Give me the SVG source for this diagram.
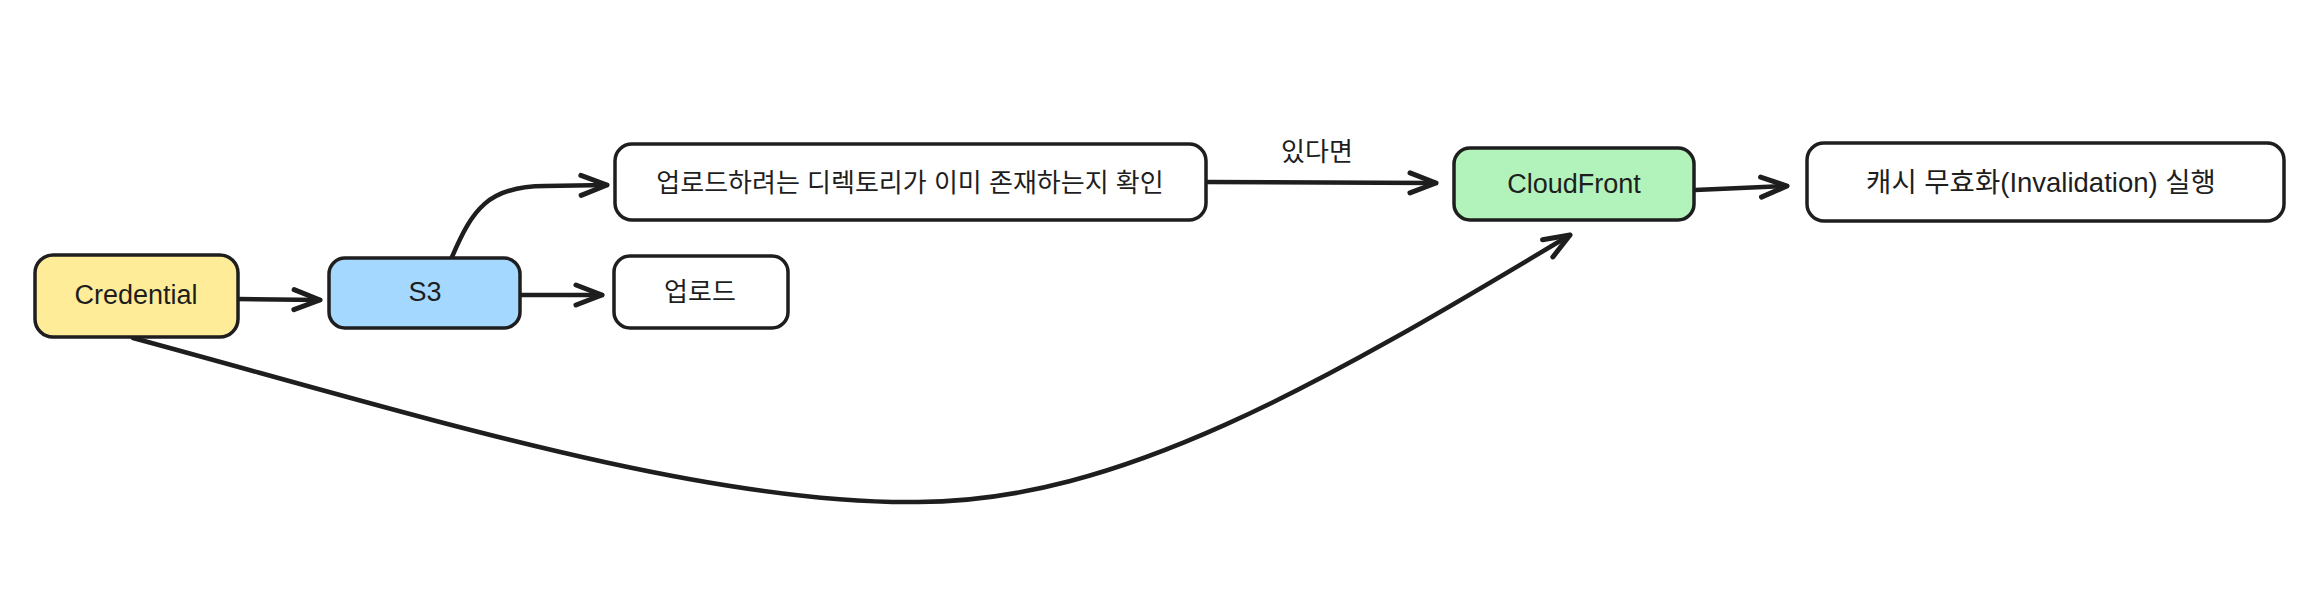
<svg xmlns="http://www.w3.org/2000/svg" width="2318" height="604" viewBox="0 0 2318 604">
<style>
.box{stroke:#1e1e1e;stroke-width:3.5;}
.lbl{font-family:"Liberation Sans","Noto Sans CJK KR",sans-serif;fill:#1e1e1e;text-anchor:middle;}
.lat{font-size:27px;}
.kor{font-size:26px;}
.mix{font-size:27.5px;}
.edge{fill:none;stroke:#1e1e1e;stroke-width:4.5;stroke-linecap:round;stroke-linejoin:round;}
</style>
<defs>
<marker id="ah" markerUnits="userSpaceOnUse" markerWidth="40" markerHeight="30" viewBox="-32 -15 40 30" refX="0" refY="0" orient="auto" overflow="visible">
<path d="M-26,-10 L0,0 L-26,10" fill="none" stroke="#1e1e1e" stroke-width="5" stroke-linecap="round" stroke-linejoin="round"/>
</marker>
</defs>
<rect width="2318" height="604" fill="#ffffff"/>
<g id="connectors">
<path class="edge" d="M238,299 L320,300" marker-end="url(#ah)"/>
<path class="edge" d="M521,295 L602,295" marker-end="url(#ah)"/>
<path class="edge" d="M452,257 C472,210 488,186 545,186 L607,185" marker-end="url(#ah)"/>
<path class="edge" d="M1206,182 L1436,183" marker-end="url(#ah)"/>
<path class="edge" d="M1695,190 L1787,186" marker-end="url(#ah)"/>
<path class="edge" d="M133,338 C400,410 700,505 918,502 C1118,502 1322,384 1570,235" marker-end="url(#ah)"/>
<text class="lbl kor" x="1317" y="161">있다면</text>
</g>
<g id="node-credential">
<rect class="box" x="35" y="255" width="203" height="82" rx="18" fill="#ffec99"/>
<text class="lbl lat" x="136" y="304">Credential</text>
</g>
<g id="node-s3">
<rect class="box" x="329" y="258" width="191" height="70" rx="16" fill="#a5d8ff"/>
<text class="lbl lat" x="425" y="301">S3</text>
</g>
<g id="node-upload">
<rect class="box" x="614" y="256" width="174" height="72" rx="16" fill="#ffffff"/>
<text class="lbl kor" x="700" y="301">업로드</text>
</g>
<g id="node-check">
<rect class="box" x="615" y="144" width="591" height="76" rx="17" fill="#ffffff"/>
<text class="lbl kor" x="910" y="192">업로드하려는 디렉토리가 이미 존재하는지 확인</text>
</g>
<g id="node-cloudfront">
<rect class="box" x="1454" y="148" width="240" height="72" rx="16" fill="#b2f2bb"/>
<text class="lbl lat" x="1574" y="193">CloudFront</text>
</g>
<g id="node-invalidation">
<rect class="box" x="1807" y="143" width="477" height="78" rx="17" fill="#ffffff"/>
<text class="lbl mix" x="2041" y="192">캐시 무효화(Invalidation) 실행</text>
</g>
</svg>
